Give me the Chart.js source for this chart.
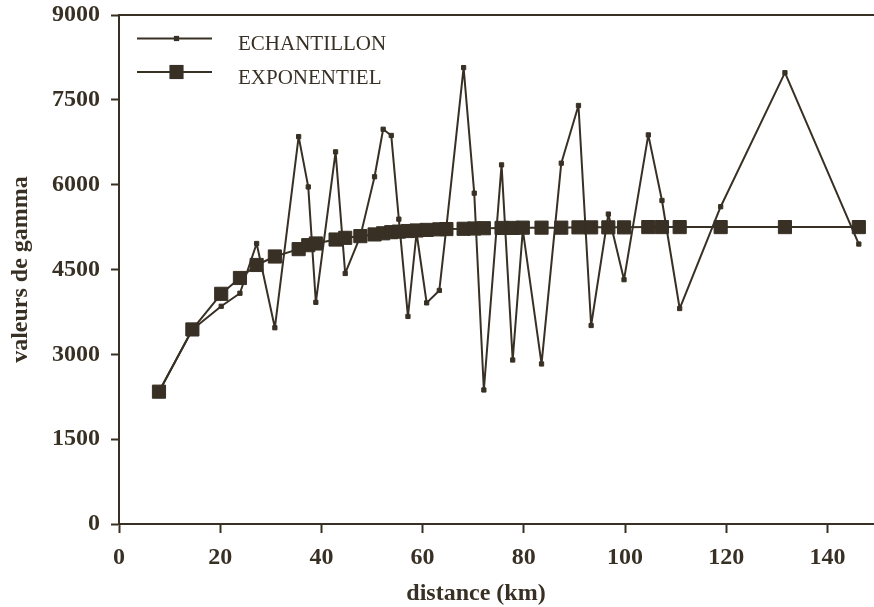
<!DOCTYPE html>
<html>
<head>
<meta charset="utf-8">
<script src="https://cdn.jsdelivr.net/npm/chart.js@4.4.1/dist/chart.umd.min.js"></script>
<style>
html,body{margin:0;padding:0;background:#ffffff;}
#wrap{position:relative;width:874px;height:607px;overflow:hidden;}
</style>
</head>
<body>
<div id="wrap"><canvas id="c" width="874" height="607"></canvas></div>
<script>
// ---- data ----
const distances = [7.9, 14.5, 20.2, 23.9, 27.2, 30.8, 35.5, 37.4, 38.9, 42.8,
  44.7, 47.7, 50.5, 52.2, 53.8, 55.3, 57.1, 58.8, 60.8, 63.3,
  64.7, 68.1, 70.2, 72.1, 75.6, 77.8, 79.8, 83.5, 87.4, 90.8,
  93.3, 96.7, 99.8, 104.6, 107.3, 110.8, 118.9, 131.6, 146.2];
const echantillon = [2340, 3440, 3850, 4080, 4960, 3470, 6850, 5960, 3920, 6580,
  4430, 5090, 6140, 6980, 6870, 5390, 3670, 5150, 3910, 4130,
  5250, 8070, 5850, 2370, 6350, 2900, 5200, 2830, 6380, 7400,
  3510, 5480, 4320, 6880, 5720, 3810, 5610, 7980, 4950];
const exponentiel = [2340, 3440, 4070, 4350, 4580, 4730, 4860, 4930, 4960, 5030,
  5060, 5090, 5120, 5140, 5160, 5170, 5180, 5190, 5200, 5210,
  5215, 5220, 5225, 5230, 5235, 5235, 5240, 5240, 5240, 5245,
  5245, 5245, 5245, 5250, 5250, 5250, 5250, 5250, 5250];
const xTicks = [0, 20, 40, 60, 80, 100, 120, 140];
const yTicks = [0, 1500, 3000, 4500, 6000, 7500, 9000];
const seriesLabels = ['ECHANTILLON', 'EXPONENTIEL'];
const xTitle = 'distance (km)';
const yTitle = 'valeurs de gamma';

// ---- styling ----
const ink = '#383024';
const serif = '"Liberation Serif", "Times New Roman", Times, serif';
const toPts = vals => distances.map((d, i) => ({x: d, y: vals[i]}));
const noPad = s => { s.paddingLeft = 0; s.paddingRight = 0; s.paddingTop = 0; s.paddingBottom = 0; };

const refLegend = {
  id: 'refLegend',
  afterDraw(chart) {
    const ctx = chart.ctx, a = chart.chartArea;
    [0, 1].forEach((idx, r) => {
      const ds = chart.data.datasets.find(d => d.label === seriesLabels[idx]);
      const y = a.top + 23.5 + r * 33.5;
      const x0 = a.left + 18, x1 = a.left + 93, xm = (x0 + x1) / 2 + 2;
      ctx.save();
      ctx.strokeStyle = ds.borderColor;
      ctx.lineWidth = ds.borderWidth;
      ctx.beginPath(); ctx.moveTo(x0, y); ctx.lineTo(x1, y); ctx.stroke();
      const side = ds.pointRadius * Math.SQRT2 + 1;
      ctx.fillStyle = ds.backgroundColor;
      ctx.fillRect(xm - side / 2, y - side / 2, side, side);
      ctx.font = 'normal 21px ' + serif;
      ctx.textBaseline = 'middle';
      ctx.textAlign = 'left';
      ctx.fillStyle = ink;
      ctx.fillText(ds.label, a.left + 119, y + 6);
      ctx.restore();
    });
  }
};

const xAxisTitle = {
  id: 'xAxisTitle',
  afterDraw(chart) {
    const ctx = chart.ctx;
    ctx.save();
    ctx.font = 'bold 24px ' + serif;
    ctx.fillStyle = ink;
    ctx.textAlign = 'center';
    ctx.textBaseline = 'alphabetic';
    ctx.fillText(xTitle, 476, 600);
    ctx.restore();
  }
};

new Chart(document.getElementById('c'), {
  type: 'scatter',
  data: {
    datasets: [
      {label: seriesLabels[0], data: toPts(echantillon), showLine: true,
       borderColor: ink, backgroundColor: ink, borderWidth: 2, borderJoinStyle: 'bevel',
       pointStyle: 'rect', pointRadius: 3, pointBorderWidth: 1, pointBorderColor: ink,
       pointHoverRadius: 3, order: 2},
      {label: seriesLabels[1], data: toPts(exponentiel), showLine: true,
       borderColor: ink, backgroundColor: ink, borderWidth: 2, borderJoinStyle: 'bevel',
       pointStyle: 'rect', pointRadius: 9.3, pointBorderWidth: 1, pointBorderColor: ink,
       pointHoverRadius: 9.3, order: 1}
    ]
  },
  options: {
    responsive: false,
    devicePixelRatio: 1,
    animation: false,
    events: [],
    layout: {padding: 0, autoPadding: false},
    plugins: {legend: {display: false}, tooltip: {enabled: false}, title: {display: false}},
    scales: {
      x: {
        type: 'linear', position: 'bottom', min: 0, max: 149.2,
        afterBuildTicks: s => { s.ticks = xTicks.map(v => ({value: v})); },
        afterFit: s => { s.height = 83; noPad(s); },
        grid: {display: true, drawOnChartArea: false, drawTicks: true, tickLength: 9, tickWidth: 2, tickColor: ink},
        border: {display: true, color: ink, width: 2},
        ticks: {font: {family: serif, size: 24, weight: 'bold'}, color: ink, padding: 10, maxRotation: 0, autoSkip: false,
                callback: v => String(v)},
        title: {display: false}
      },
      xTop: {
        type: 'linear', position: 'top', min: 0, max: 149.2,
        afterFit: s => { s.height = 15; noPad(s); },
        grid: {display: false},
        ticks: {display: false},
        border: {display: true, color: ink, width: 2}
      },
      y: {
        type: 'linear', position: 'left', min: 0, max: 9000,
        afterBuildTicks: s => { s.ticks = yTicks.map(v => ({value: v})); },
        afterFit: s => { s.width = 119; noPad(s); },
        grid: {display: true, drawOnChartArea: false, drawTicks: true, tickLength: 8, tickWidth: 2, tickColor: ink},
        border: {display: true, color: ink, width: 2},
        ticks: {font: {family: serif, size: 24, weight: 'bold'}, color: ink, padding: 11, autoSkip: false,
                callback: v => String(v)},
        title: {display: true, text: yTitle, font: {family: serif, size: 24, weight: 'bold'}, color: ink, padding: {top: 6, bottom: 0}}
      }
    }
  },
  plugins: [refLegend, xAxisTitle]
});
</script>
</body>
</html>
